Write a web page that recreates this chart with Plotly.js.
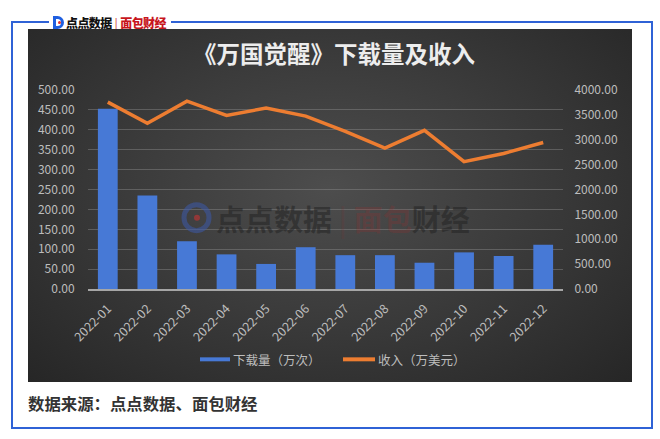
<!DOCTYPE html>
<html>
<head>
<meta charset="utf-8">
<script src="https://cdn.plot.ly/plotly-3.0.1.min.js"></script>
<style>
  html, body { margin:0; padding:0; background:#fff; width:660px; height:439px; overflow:hidden; }
  #frame { position:absolute; left:11px; top:21px; width:638px; height:404px; border:2px solid #2f62d6; box-sizing:content-box; }
  #dark { position:absolute; left:28px; top:29px; width:604px; height:353px;
          background: radial-gradient(ellipse at 50% 45%, #4d4d4d 0%, #3c3c3c 45%, #262626 100%); }
  #logo { position:absolute; left:49px; top:12px; height:20px; padding:0 5px 0 4px; background:#fff; display:flex; align-items:center;
          font-family:"Noto Sans CJK SC", sans-serif; font-weight:900; font-size:12px; letter-spacing:-0.6px; }
  #logo .icon { width:11px; height:13px; border:3px solid #1f5fe0; border-radius:0 9px 9px 0; box-sizing:border-box; position:relative; margin-right:2px; }
  #logo .icon:after { content:""; position:absolute; left:2px; top:2px; width:3px; height:3px; background:#e03030; border-radius:50%; }
  #logo .a { color:#111; }
  #logo .sep { color:#c33; margin:0 3px; font-weight:400; }
  #logo .b { color:#c8161d; }
  #source { position:absolute; left:28px; top:391px; font-family:"Noto Sans CJK SC", serif; font-weight:700; font-size:16.4px; color:#333; }
  #chart { position:absolute; left:0; top:0; width:660px; height:439px; }
</style>
</head>
<body>
<div id="frame"></div>
<div id="logo"><span class="icon"></span><span class="a">点点数据</span><span class="sep">|</span><span class="b">面包财经</span></div>
<div id="dark"></div>
<div id="source">数据来源：点点数据、面包财经</div>
<div id="chart"></div>
<script>
const months = ["2022-01","2022-02","2022-03","2022-04","2022-05","2022-06","2022-07","2022-08","2022-09","2022-10","2022-11","2022-12"];
const downloads = [453, 235, 120, 87, 63, 105, 85, 85, 66, 92, 83, 111];
const revenue = [3756, 3330, 3776, 3490, 3636, 3476, 3170, 2830, 3190, 2560, 2724, 2944];
const leftTicks = [0,50,100,150,200,250,300,350,400,450,500];
const rightTicks = [0,500,1000,1500,2000,2500,3000,3500,4000];
const seriesNames = ['下载量（万次）', '收入（万美元）'];

const fontFam = '"Noto Sans CJK SC", "Noto Sans", sans-serif';
const tickFont = {family: fontFam, size: 12, color: '#bdbdbd'};
const barColor = '#4779d6', lineColor = '#ed7d31';

const traces = [
  {type:'bar', x: months, y: downloads, name: seriesNames[0],
   marker:{color: barColor}, yaxis:'y'},
  {type:'scatter', mode:'lines', x: months, y: revenue, name: seriesNames[1],
   line:{color: lineColor, width:3.5}, yaxis:'y2'}
];

// paper-coordinate helpers (plot area 88..563 x, 90..289.5 y)
const px = v => (v - 88) / 475;
const py = v => (289.5 - v) / 199.5;

const layout = {
  width:660, height:439,
  paper_bgcolor:'rgba(0,0,0,0)', plot_bgcolor:'rgba(0,0,0,0)',
  margin:{l:88, r:97, t:90, b:149.5},
  font:{family:fontFam},
  bargap:0.5,
  showlegend:false,
  title:{text:'《万国觉醒》下载量及收入', x:334/660, xref:'container', xanchor:'center',
         y:1-55/439, yref:'container', yanchor:'middle',
         font:{family:fontFam, size:23.5, color:'#ededed', weight:'bold'}},
  xaxis:{type:'category', tickangle:-45, tickfont:{family:fontFam, size:12.5, color:'#bdbdbd'},
         showline:true, linecolor:'#a6a6a6', linewidth:1.5, showgrid:false,
         ticks:'outside', ticklen:6, tickcolor:'rgba(0,0,0,0)', fixedrange:true},
  yaxis:{range:[0,500], tickvals:leftTicks, tickformat:'.2f', tickfont:tickFont,
         showgrid:true, gridcolor:'rgba(140,140,140,0.45)', gridwidth:1, zeroline:false,
         ticks:'outside', ticklen:10, tickcolor:'rgba(0,0,0,0)'},
  yaxis2:{range:[0,4000], tickvals:rightTicks, tickformat:'.2f', tickfont:tickFont,
          overlaying:'y', side:'right', showgrid:false, zeroline:false,
          ticks:'outside', ticklen:8, tickcolor:'rgba(0,0,0,0)'},
  annotations:[
    {xref:'paper', yref:'paper', x:px(214), y:py(218), xanchor:'left', yanchor:'middle', showarrow:false,
     text:'点点数据<span style="color:rgba(120,50,50,0.35)"> | </span><span style="color:rgba(150,45,45,0.45)">面包</span>财经',
     font:{family:fontFam, size:29, color:'rgba(35,35,35,0.55)', weight:'bold'}},
    {xref:'paper', yref:'paper', x:px(231), y:py(360), xanchor:'left', yanchor:'middle', text:seriesNames[0], showarrow:false,
     font:{family:fontFam, size:12.5, color:'#bdbdbd'}},
    {xref:'paper', yref:'paper', x:px(376), y:py(360), xanchor:'left', yanchor:'middle', text:seriesNames[1], showarrow:false,
     font:{family:fontFam, size:12.5, color:'#bdbdbd'}}
  ],
  shapes:[
    {type:'circle', xref:'paper', yref:'paper', x0:px(184), x1:px(209),
     y0:py(231), y1:py(205), line:{color:'rgba(60,90,170,0.55)', width:5}},
    {type:'circle', xref:'paper', yref:'paper', x0:px(194), x1:px(200),
     y0:py(221), y1:py(215), line:{width:0}, fillcolor:'rgba(200,50,50,0.6)'},
    {type:'rect', xref:'paper', yref:'paper', x0:px(200), x1:px(230), y0:py(362), y1:py(358),
     line:{width:0}, fillcolor: barColor},
    {type:'rect', xref:'paper', yref:'paper', x0:px(343), x1:px(375), y0:py(362), y1:py(358),
     line:{width:0}, fillcolor: lineColor}
  ]
};

Plotly.newPlot('chart', traces, layout, {displayModeBar:false, staticPlot:true});
</script>
</body>
</html>
